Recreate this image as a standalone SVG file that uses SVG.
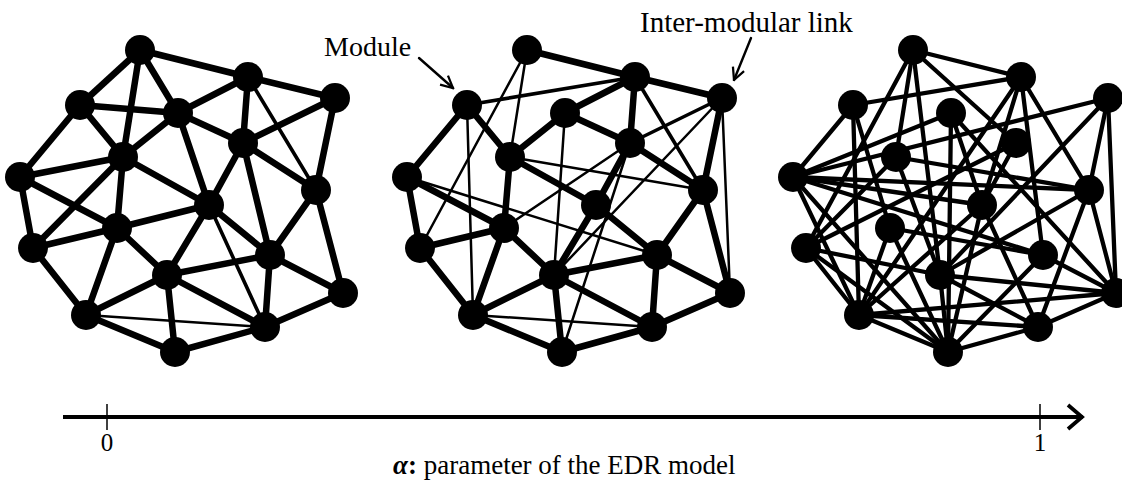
<svg xmlns="http://www.w3.org/2000/svg" width="1122" height="485" viewBox="0 0 1122 485">
<defs>
<style>
.n{fill:#000}
.e{stroke:#000;fill:none;stroke-linecap:round}
.k{stroke-width:6.5}
.m{stroke-width:3.6}
.s{stroke-width:2.5}
.r{stroke-width:4.3}
.lbl{font-family:"Liberation Serif","Times New Roman",serif;fill:#000}
</style>
<marker id="ah" viewBox="0 0 10 10" refX="9" refY="5" markerWidth="15" markerHeight="15" markerUnits="userSpaceOnUse" orient="auto">
<path d="M1,1 L9,5 L1,9" fill="none" stroke="#000" stroke-width="1.5"/>
</marker>
<marker id="axh" viewBox="0 0 20 30" refX="18" refY="15" markerWidth="20" markerHeight="30" markerUnits="userSpaceOnUse" orient="auto">
<path d="M3,3 L17,15 L3,27" fill="none" stroke="#000" stroke-width="3.8"/>
</marker>
</defs>
<rect width="1122" height="485" fill="#fff"/>

<g id="connectors">
<g id="net1-links" class="e">
<line class="k" x1="140" y1="50" x2="248" y2="77"/>
<line class="k" x1="140" y1="50" x2="80" y2="105"/>
<line class="k" x1="140" y1="50" x2="178" y2="113"/>
<line class="k" x1="140" y1="50" x2="123" y2="157"/>
<line class="k" x1="248" y1="77" x2="335" y2="98"/>
<line class="k" x1="248" y1="77" x2="178" y2="113"/>
<line class="k" x1="248" y1="77" x2="243" y2="143"/>
<line class="m" x1="248" y1="77" x2="316" y2="190"/>
<line class="k" x1="335" y1="98" x2="243" y2="143"/>
<line class="k" x1="335" y1="98" x2="316" y2="190"/>
<line class="k" x1="80" y1="105" x2="178" y2="113"/>
<line class="k" x1="80" y1="105" x2="123" y2="157"/>
<line class="k" x1="80" y1="105" x2="20" y2="177"/>
<line class="k" x1="178" y1="113" x2="243" y2="143"/>
<line class="k" x1="178" y1="113" x2="123" y2="157"/>
<line class="k" x1="178" y1="113" x2="209" y2="205"/>
<line class="k" x1="243" y1="143" x2="209" y2="205"/>
<line class="k" x1="243" y1="143" x2="316" y2="190"/>
<line class="k" x1="243" y1="143" x2="270" y2="255"/>
<line class="k" x1="123" y1="157" x2="20" y2="177"/>
<line class="k" x1="123" y1="157" x2="209" y2="205"/>
<line class="k" x1="123" y1="157" x2="117" y2="228"/>
<line class="k" x1="123" y1="157" x2="33" y2="248"/>
<line class="k" x1="20" y1="177" x2="117" y2="228"/>
<line class="k" x1="20" y1="177" x2="33" y2="248"/>
<line class="k" x1="316" y1="190" x2="270" y2="255"/>
<line class="k" x1="316" y1="190" x2="343" y2="293"/>
<line class="k" x1="209" y1="205" x2="117" y2="228"/>
<line class="k" x1="209" y1="205" x2="167" y2="275"/>
<line class="k" x1="209" y1="205" x2="270" y2="255"/>
<line class="m" x1="209" y1="205" x2="265" y2="327"/>
<line class="k" x1="117" y1="228" x2="33" y2="248"/>
<line class="k" x1="117" y1="228" x2="86" y2="315"/>
<line class="k" x1="117" y1="228" x2="167" y2="275"/>
<line class="k" x1="33" y1="248" x2="86" y2="315"/>
<line class="k" x1="270" y1="255" x2="167" y2="275"/>
<line class="k" x1="270" y1="255" x2="343" y2="293"/>
<line class="k" x1="270" y1="255" x2="265" y2="327"/>
<line class="k" x1="167" y1="275" x2="86" y2="315"/>
<line class="k" x1="167" y1="275" x2="265" y2="327"/>
<line class="k" x1="167" y1="275" x2="175" y2="352"/>
<line class="k" x1="343" y1="293" x2="265" y2="327"/>
<line class="s" x1="86" y1="315" x2="265" y2="327"/>
<line class="k" x1="86" y1="315" x2="175" y2="352"/>
<line class="k" x1="265" y1="327" x2="175" y2="352"/>
</g>
<g id="net2-links" class="e">
<line class="k" x1="527" y1="50" x2="635" y2="77"/>
<line class="s" x1="527" y1="50" x2="510" y2="157"/>
<line class="s" x1="527" y1="50" x2="420" y2="248"/>
<line class="k" x1="635" y1="77" x2="722" y2="98"/>
<line class="m" x1="635" y1="77" x2="467" y2="105"/>
<line class="k" x1="635" y1="77" x2="565" y2="113"/>
<line class="k" x1="635" y1="77" x2="630" y2="143"/>
<line class="m" x1="635" y1="77" x2="703" y2="190"/>
<line class="m" x1="722" y1="98" x2="630" y2="143"/>
<line class="k" x1="722" y1="98" x2="703" y2="190"/>
<line class="s" x1="722" y1="98" x2="554" y2="275"/>
<line class="s" x1="722" y1="98" x2="730" y2="293"/>
<line class="k" x1="467" y1="105" x2="510" y2="157"/>
<line class="k" x1="467" y1="105" x2="407" y2="177"/>
<line class="s" x1="467" y1="105" x2="473" y2="315"/>
<line class="k" x1="565" y1="113" x2="630" y2="143"/>
<line class="k" x1="565" y1="113" x2="510" y2="157"/>
<line class="s" x1="565" y1="113" x2="554" y2="275"/>
<line class="k" x1="630" y1="143" x2="703" y2="190"/>
<line class="k" x1="630" y1="143" x2="596" y2="205"/>
<line class="s" x1="630" y1="143" x2="504" y2="228"/>
<line class="s" x1="630" y1="143" x2="562" y2="352"/>
<line class="s" x1="510" y1="157" x2="703" y2="190"/>
<line class="k" x1="510" y1="157" x2="596" y2="205"/>
<line class="k" x1="510" y1="157" x2="504" y2="228"/>
<line class="k" x1="407" y1="177" x2="504" y2="228"/>
<line class="k" x1="407" y1="177" x2="420" y2="248"/>
<line class="s" x1="407" y1="177" x2="657" y2="255"/>
<line class="k" x1="703" y1="190" x2="657" y2="255"/>
<line class="k" x1="703" y1="190" x2="730" y2="293"/>
<line class="k" x1="596" y1="205" x2="657" y2="255"/>
<line class="k" x1="596" y1="205" x2="554" y2="275"/>
<line class="k" x1="504" y1="228" x2="420" y2="248"/>
<line class="k" x1="504" y1="228" x2="554" y2="275"/>
<line class="k" x1="504" y1="228" x2="473" y2="315"/>
<line class="k" x1="420" y1="248" x2="473" y2="315"/>
<line class="k" x1="657" y1="255" x2="554" y2="275"/>
<line class="k" x1="657" y1="255" x2="730" y2="293"/>
<line class="k" x1="657" y1="255" x2="652" y2="327"/>
<line class="k" x1="554" y1="275" x2="473" y2="315"/>
<line class="k" x1="554" y1="275" x2="652" y2="327"/>
<line class="k" x1="554" y1="275" x2="562" y2="352"/>
<line class="k" x1="730" y1="293" x2="652" y2="327"/>
<line class="s" x1="473" y1="315" x2="652" y2="327"/>
<line class="k" x1="473" y1="315" x2="562" y2="352"/>
<line class="k" x1="652" y1="327" x2="562" y2="352"/>
</g>
<g id="net3-links" class="e r">
<line x1="913" y1="50" x2="1021" y2="77"/>
<line x1="913" y1="50" x2="896" y2="157"/>
<line x1="913" y1="50" x2="806" y2="248"/>
<line x1="913" y1="50" x2="940" y2="275"/>
<line x1="913" y1="50" x2="1016" y2="143"/>
<line x1="1021" y1="77" x2="853" y2="105"/>
<line x1="1021" y1="77" x2="1089" y2="190"/>
<line x1="1021" y1="77" x2="1043" y2="255"/>
<line x1="1021" y1="77" x2="859" y2="315"/>
<line x1="1021" y1="77" x2="982" y2="205"/>
<line x1="1108" y1="98" x2="793" y2="177"/>
<line x1="1108" y1="98" x2="1089" y2="190"/>
<line x1="1108" y1="98" x2="940" y2="275"/>
<line x1="1108" y1="98" x2="1116" y2="293"/>
<line x1="853" y1="105" x2="793" y2="177"/>
<line x1="853" y1="105" x2="890" y2="228"/>
<line x1="853" y1="105" x2="859" y2="315"/>
<line x1="951" y1="113" x2="793" y2="177"/>
<line x1="951" y1="113" x2="982" y2="205"/>
<line x1="951" y1="113" x2="1116" y2="293"/>
<line x1="951" y1="113" x2="948" y2="352"/>
<line x1="1016" y1="143" x2="982" y2="205"/>
<line x1="1016" y1="143" x2="806" y2="248"/>
<line x1="896" y1="157" x2="1089" y2="190"/>
<line x1="896" y1="157" x2="940" y2="275"/>
<line x1="896" y1="157" x2="806" y2="248"/>
<line x1="793" y1="177" x2="1089" y2="190"/>
<line x1="793" y1="177" x2="982" y2="205"/>
<line x1="793" y1="177" x2="1043" y2="255"/>
<line x1="793" y1="177" x2="859" y2="315"/>
<line x1="793" y1="177" x2="948" y2="352"/>
<line x1="1089" y1="190" x2="940" y2="275"/>
<line x1="1089" y1="190" x2="1116" y2="293"/>
<line x1="1089" y1="190" x2="1038" y2="327"/>
<line x1="982" y1="205" x2="859" y2="315"/>
<line x1="982" y1="205" x2="1038" y2="327"/>
<line x1="982" y1="205" x2="948" y2="352"/>
<line x1="890" y1="228" x2="1043" y2="255"/>
<line x1="890" y1="228" x2="859" y2="315"/>
<line x1="890" y1="228" x2="948" y2="352"/>
<line x1="806" y1="248" x2="940" y2="275"/>
<line x1="806" y1="248" x2="859" y2="315"/>
<line x1="806" y1="248" x2="948" y2="352"/>
<line x1="1043" y1="255" x2="1116" y2="293"/>
<line x1="1043" y1="255" x2="948" y2="352"/>
<line x1="940" y1="275" x2="1116" y2="293"/>
<line x1="940" y1="275" x2="1038" y2="327"/>
<line x1="940" y1="275" x2="948" y2="352"/>
<line x1="1116" y1="293" x2="859" y2="315"/>
<line x1="1116" y1="293" x2="1038" y2="327"/>
<line x1="859" y1="315" x2="1038" y2="327"/>
<line x1="859" y1="315" x2="948" y2="352"/>
<line x1="1038" y1="327" x2="948" y2="352"/>
</g>
<g id="annotation-arrows" class="e">
<line x1="419" y1="58" x2="453" y2="88" stroke-width="2.4" marker-end="url(#ah)"/>
<line x1="751" y1="38" x2="734" y2="80" stroke-width="2.4" marker-end="url(#ah)"/>
</g>
</g>

<g id="n1-A"><circle class="n" cx="140" cy="50" r="15"/></g>
<g id="n1-B"><circle class="n" cx="248" cy="77" r="15"/></g>
<g id="n1-C"><circle class="n" cx="335" cy="98" r="15"/></g>
<g id="n1-D"><circle class="n" cx="80" cy="105" r="15"/></g>
<g id="n1-E"><circle class="n" cx="178" cy="113" r="15"/></g>
<g id="n1-F"><circle class="n" cx="243" cy="143" r="15"/></g>
<g id="n1-G"><circle class="n" cx="123" cy="157" r="15"/></g>
<g id="n1-H"><circle class="n" cx="20" cy="177" r="15"/></g>
<g id="n1-I"><circle class="n" cx="316" cy="190" r="15"/></g>
<g id="n1-J"><circle class="n" cx="209" cy="205" r="15"/></g>
<g id="n1-K"><circle class="n" cx="117" cy="228" r="15"/></g>
<g id="n1-L"><circle class="n" cx="33" cy="248" r="15"/></g>
<g id="n1-M"><circle class="n" cx="270" cy="255" r="15"/></g>
<g id="n1-N"><circle class="n" cx="167" cy="275" r="15"/></g>
<g id="n1-O"><circle class="n" cx="343" cy="293" r="15"/></g>
<g id="n1-P"><circle class="n" cx="86" cy="315" r="15"/></g>
<g id="n1-Q"><circle class="n" cx="265" cy="327" r="15"/></g>
<g id="n1-R"><circle class="n" cx="175" cy="352" r="15"/></g>

<g id="n2-A"><circle class="n" cx="527" cy="50" r="15"/></g>
<g id="n2-B"><circle class="n" cx="635" cy="77" r="15"/></g>
<g id="n2-C"><circle class="n" cx="722" cy="98" r="15"/></g>
<g id="n2-D"><circle class="n" cx="467" cy="105" r="15"/></g>
<g id="n2-E"><circle class="n" cx="565" cy="113" r="15"/></g>
<g id="n2-F"><circle class="n" cx="630" cy="143" r="15"/></g>
<g id="n2-G"><circle class="n" cx="510" cy="157" r="15"/></g>
<g id="n2-H"><circle class="n" cx="407" cy="177" r="15"/></g>
<g id="n2-I"><circle class="n" cx="703" cy="190" r="15"/></g>
<g id="n2-J"><circle class="n" cx="596" cy="205" r="15"/></g>
<g id="n2-K"><circle class="n" cx="504" cy="228" r="15"/></g>
<g id="n2-L"><circle class="n" cx="420" cy="248" r="15"/></g>
<g id="n2-M"><circle class="n" cx="657" cy="255" r="15"/></g>
<g id="n2-N"><circle class="n" cx="554" cy="275" r="15"/></g>
<g id="n2-O"><circle class="n" cx="730" cy="293" r="15"/></g>
<g id="n2-P"><circle class="n" cx="473" cy="315" r="15"/></g>
<g id="n2-Q"><circle class="n" cx="652" cy="327" r="15"/></g>
<g id="n2-R"><circle class="n" cx="562" cy="352" r="15"/></g>

<g id="n3-A"><circle class="n" cx="913" cy="50" r="15"/></g>
<g id="n3-B"><circle class="n" cx="1021" cy="77" r="15"/></g>
<g id="n3-C"><circle class="n" cx="1108" cy="98" r="15"/></g>
<g id="n3-D"><circle class="n" cx="853" cy="105" r="15"/></g>
<g id="n3-E"><circle class="n" cx="951" cy="113" r="15"/></g>
<g id="n3-F"><circle class="n" cx="1016" cy="143" r="15"/></g>
<g id="n3-G"><circle class="n" cx="896" cy="157" r="15"/></g>
<g id="n3-H"><circle class="n" cx="793" cy="177" r="15"/></g>
<g id="n3-I"><circle class="n" cx="1089" cy="190" r="15"/></g>
<g id="n3-J"><circle class="n" cx="982" cy="205" r="15"/></g>
<g id="n3-K"><circle class="n" cx="890" cy="228" r="15"/></g>
<g id="n3-L"><circle class="n" cx="806" cy="248" r="15"/></g>
<g id="n3-M"><circle class="n" cx="1043" cy="255" r="15"/></g>
<g id="n3-N"><circle class="n" cx="940" cy="275" r="15"/></g>
<g id="n3-O"><circle class="n" cx="1116" cy="293" r="15"/></g>
<g id="n3-P"><circle class="n" cx="859" cy="315" r="15"/></g>
<g id="n3-Q"><circle class="n" cx="1038" cy="327" r="15"/></g>
<g id="n3-R"><circle class="n" cx="948" cy="352" r="15"/></g>

<g id="label-module"><text class="lbl" x="324" y="56" font-size="28">Module</text></g>
<g id="label-intermodular"><text class="lbl" x="640" y="32" font-size="29">Inter-modular link</text></g>

<g id="axis">
<line x1="63" y1="417" x2="1083" y2="417" stroke="#000" stroke-width="3.8" marker-end="url(#axh)"/>
<line x1="107" y1="404" x2="107" y2="430" stroke="#000" stroke-width="1.5"/>
<line x1="1040" y1="404" x2="1040" y2="430" stroke="#000" stroke-width="1.5"/>
<text class="lbl" x="107" y="451" font-size="25" text-anchor="middle">0</text>
<text class="lbl" x="1040" y="451" font-size="25" text-anchor="middle">1</text>
<text class="lbl" x="393" y="474" font-size="27"><tspan font-weight="bold" font-style="italic">α</tspan><tspan font-weight="bold">:</tspan> parameter of the EDR model</text>
</g>
</svg>
